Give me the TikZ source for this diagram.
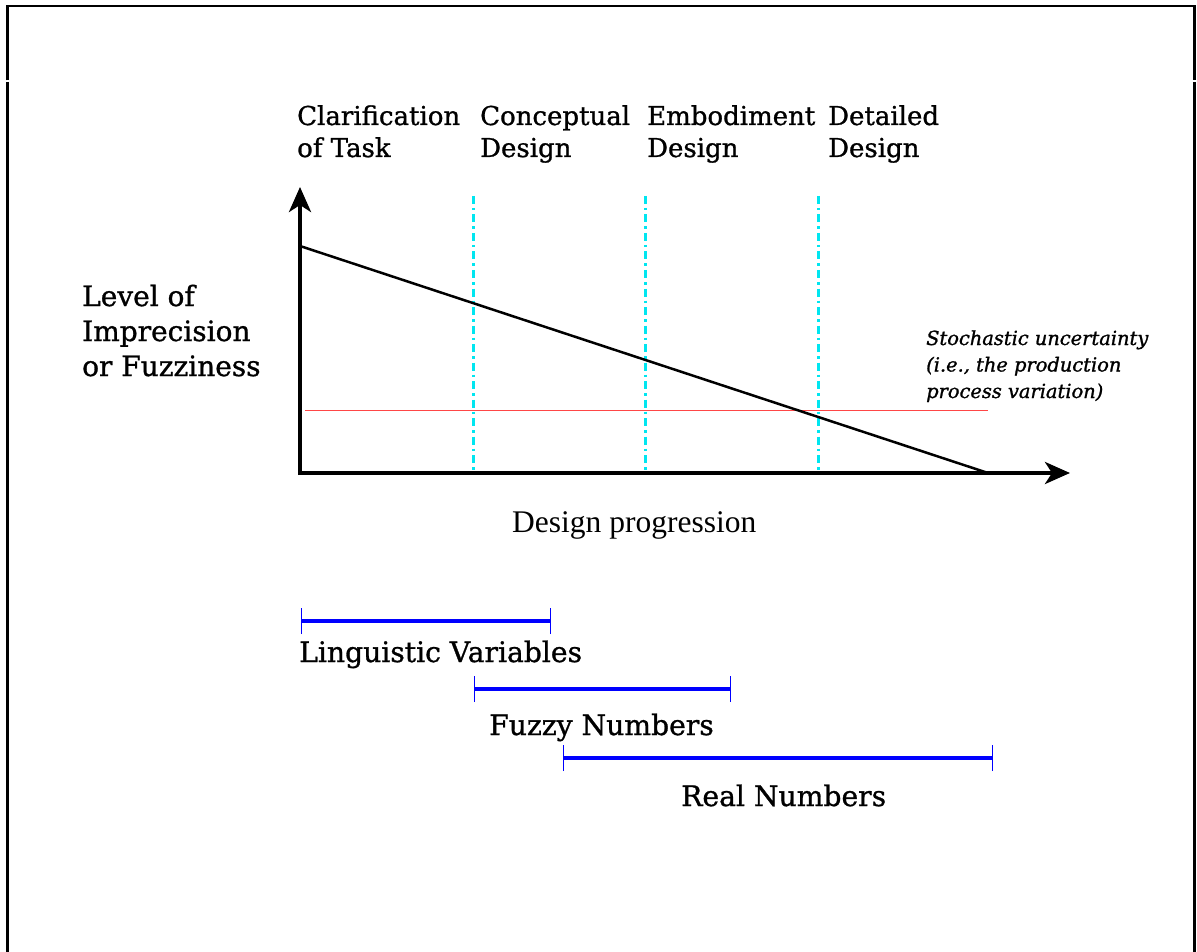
\documentclass[tikz,border=0pt]{standalone}
\usepackage{fontspec}
\setmainfont{DejaVu Serif}[FakeBold=1.0,ItalicFeatures={FakeBold=1.2}]
\newfontfamily\timesfont{Liberation Serif}
\usetikzlibrary{arrows.meta}
\definecolor{phasecyan}{RGB}{0,230,240}
\definecolor{stochred}{RGB}{255,70,70}
\tikzset{
  axisline/.style={line width=3.8pt,-{Stealth[length=25pt,width=22pt,inset=7pt]}},
  phaseline/.style={phasecyan,line width=3pt,dash pattern=on 8pt off 4pt on 2.5pt off 4pt},
  rangebar/.style={blue,line width=3.5pt},
  rangetick/.style={blue,line width=1pt},
  phaselabel/.style={anchor=base west,inner sep=0pt,align=left,font=\fontsize{26}{32}\selectfont},
  rangelabel/.style={anchor=base west,inner sep=0pt,font=\fontsize{28.2}{32}\selectfont},
  framepart/.style={line width=2.5pt}
}
\begin{document}
\begin{tikzpicture}[x=1pt,y=-1pt]
\useasboundingbox (0,0) rectangle (1197,952);
% open frame
\coordinate (fTL) at (7.5,6);
\coordinate (fTR) at (1194.5,6);
\coordinate (fLm) at (7.5,80.5);
\coordinate (fLn) at (7.5,82);
\coordinate (fLb) at (7.5,952);
\coordinate (fRm) at (1194.5,80.5);
\coordinate (fRn) at (1194.5,82);
\coordinate (fRb) at (1194.5,952);
\draw[framepart] (fLm) -- (fTL) -- (fTR) -- (fRm);
\draw[framepart] (fLn) -- (fLb);
\draw[framepart] (fRn) -- (fRb);

% phase headings (anchored at the baseline of their last line)
\node[phaselabel] (clar) at (297,157) {Clarification\\of Task};
\node[phaselabel] (conc) at (480,157) {Conceptual\\Design};
\node[phaselabel] (embo) at (647,157) {Embodiment\\Design};
\node[phaselabel] (deta) at (828,157) {Detailed\\Design};

% axes
\coordinate (O) at (300,473);
\coordinate (ytip) at (300,187);
\coordinate (xtip) at (1070,473);
\draw[axisline] (O) -- (ytip);
\draw[axisline] (O) -- (xtip);
\draw[line width=3.8pt] (300,475) -- (O);

% phase boundaries
\foreach \x/\n in {473/b1,645/b2,818/b3}{
  \coordinate (\n top) at (\x,196);
  \coordinate (\n bot) at (\x,473);
  \draw[phaseline] (\n top) -- (\n bot);
}

% stochastic level
\coordinate (r0) at (305,410);
\coordinate (r1) at (988,410);
\draw[stochred,line width=1pt] (r0) -- (r1);

% imprecision decreasing with progress
\coordinate (s0) at (300,246);
\coordinate (s1) at (988,473);
\draw[line width=2.5pt] (s0) -- (s1);

% axis labels
\node[anchor=base west,inner sep=0pt,align=left,font=\fontsize{28}{35}\selectfont] (ylab) at (82,376) {Level of\\Imprecision\\or Fuzziness};
\node[anchor=base west,inner sep=0pt,font=\timesfont\fontsize{31.5}{36}\selectfont] (xlab) at (512,532) {Design progression};
\node[anchor=base west,inner sep=0pt,align=left,font=\itshape\fontsize{19.4}{26.5}\selectfont] (stoch) at (926,398) {Stochastic uncertainty\\(i.e., the production\\process variation)};

% ranges of applicable representations
\foreach \n/\a/\b/\y in {ling/301/550/621,fuzz/474/730/689,real/563/992/758}{
  \coordinate (\n A) at (\a,\y);
  \coordinate (\n B) at (\b,\y);
  \draw[rangebar] (\n A) -- (\n B);
  \draw[rangetick] ([yshift=-13pt]\n A) -- ([yshift=13pt]\n A);
  \draw[rangetick] ([yshift=-13pt]\n B) -- ([yshift=13pt]\n B);
}
\node[rangelabel] (lingtext) at (299,662) {Linguistic Variables};
\node[rangelabel] (fuzztext) at (489,735) {Fuzzy Numbers};
\node[rangelabel] (realtext) at (681,806) {Real Numbers};
\end{tikzpicture}
\end{document}
